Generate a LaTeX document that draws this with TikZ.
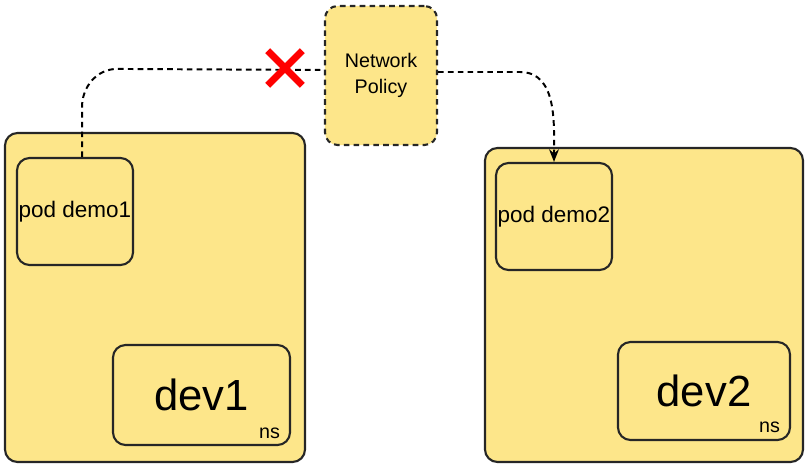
\documentclass[tikz,border=0pt]{standalone}
\usepackage{fontspec}
\setmainfont{Liberation Sans}
\usetikzlibrary{arrows.meta}
\definecolor{nsyellow}{RGB}{253,230,138}
\tikzstyle{box} = [rectangle, rounded corners=9pt, draw=black!85, line width=1.5pt, fill=nsyellow, text centered]
\tikzstyle{pod} = [box, inner sep=1pt, minimum width=2.9cm, minimum height=2.675cm, font=\fontsize{16}{18}\selectfont]
\tikzstyle{policy} = [box, dash pattern=on 4pt off 3pt, align=center, font=\fontsize{14}{18}\selectfont]
\tikzstyle{flow} = [dash pattern=on 4pt off 3pt, line width=1.4pt, -{Stealth[length=9pt, width=7pt]}]
\begin{document}
\begin{tikzpicture}[x=0.025cm, y=-0.025cm]
		\useasboundingbox (0,0) rectangle (810,468);
		\node (dev1) [box, minimum width=7.5cm, minimum height=8.225cm] at (155,297.5) {};
		\node (pod1) [pod] at (75,211.5) {pod demo1};
		\node (ns1) [box, minimum width=4.425cm, minimum height=2.5cm, font=\fontsize{31}{33}\selectfont] at (201.5,395) {dev1};
		\node (ns1label) [anchor=south east, font=\fontsize{14}{16}\selectfont] at (285,444) {ns};
		\node (dev2) [box, minimum width=7.95cm, minimum height=7.85cm] at (644,305) {};
		\node (pod2) [pod] at (554,216.5) {pod demo2};
		\node (ns2) [box, minimum width=4.3cm, minimum height=2.45cm, font=\fontsize{31}{33}\selectfont] at (704,391) {dev2};
		\node (ns2label) [anchor=south east, font=\fontsize{14}{16}\selectfont] at (785,438) {ns};
		\node (policy) [policy, minimum width=2.8cm, minimum height=3.475cm] at (381,75.5) {Network\\Policy};
		\node (block) [inner sep=0pt, minimum size=0.85cm] at (285,68) {};
		\draw [dash pattern=on 4pt off 3pt, line width=1.4pt] ([xshift=5]pod1.north) -- ++(0,-50) to[out=90, in=180] ++(35,-38) -- (policy.west |- 0,70);
		\draw [flow] (policy.east |- 0,72) -- (520,72) to[out=0, in=90] (pod2.north);
		\draw [red, line width=5pt] (block.north west) -- (block.south east);
		\draw [red, line width=5pt] (block.north east) -- (block.south west);
	\end{tikzpicture}
\end{document}
